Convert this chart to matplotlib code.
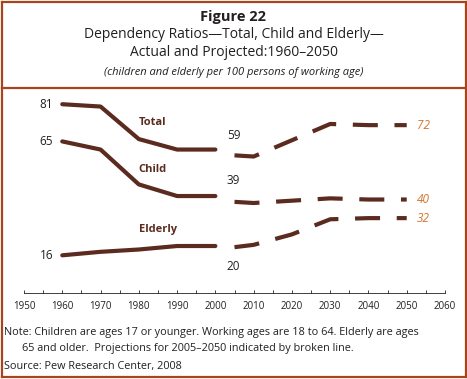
import matplotlib.pyplot as plt
from matplotlib.lines import Line2D

# データ
years_actual = [1960, 1970, 1980, 1990, 2000]
years_proj = [2005, 2010, 2020, 2030, 2040, 2050]

total_actual = [81, 80, 66, 61.5, 61.5]
child_actual = [65, 61.5, 46.5, 41.5, 41.5]
elderly_actual = [16, 17.5, 18.5, 20, 20]

total_proj = [59, 58.5, 65.5, 72.5, 72, 72]
child_proj = [39, 38.5, 39.5, 40.5, 40, 40]
elderly_proj = [19.5, 20.5, 25, 31.5, 32, 32]

tick_years = list(range(1950, 2061, 10))

LINE = "#5c2b1f"
FRAME = "#a8441c"
PROJ = "#d4742c"
TEXT = "#231f20"
FONT = ["Open Sans", "DejaVu Sans"]

plt.rcParams["font.family"] = FONT

W, H = 467, 379
fig = plt.figure(figsize=(W / 100, H / 100), dpi=100)


def fx(px):
    return px / W


def fy(py):
    return 1 - py / H


# 枠線
for seg in [
    ((1.5, 465.5), (1.5, 1.5)),
    ((1.5, 465.5), (87.5, 87.5)),
    ((1.5, 465.5), (376.5, 376.5)),
    ((1.5, 1.5), (1.5, 376.5)),
    ((465.5, 465.5), (1.5, 376.5)),
]:
    (x0, x1), (y0, y1) = seg
    fig.add_artist(Line2D([fx(x0), fx(x1)], [fy(y0), fy(y1)], color=FRAME, lw=1.6))

# タイトル
fig.text(0.5, fy(17), "Figure 22", ha="center", va="center", fontsize=10.5, fontweight="bold", color=TEXT)
fig.text(0.5, fy(35), "Dependency Ratios\u2014Total, Child and Elderly\u2014", ha="center", va="center",
         fontsize=10, color=TEXT)
fig.text(0.5, fy(53), "Actual and Projected:1960\u20132050", ha="center", va="center", fontsize=10, color=TEXT)
fig.text(0.5, fy(72), "(children and elderly per 100 persons of working age)", ha="center", va="center",
         fontsize=8, style="italic", color=TEXT)

# メイン軸
ax = fig.add_axes((fx(24), fy(292.5), fx(445) - fx(24), fy(83.3) - fy(292.5)))
ax.set_xlim(1950, 2060)
ax.set_ylim(0, 90)
for s in ["top", "right", "left"]:
    ax.spines[s].set_visible(False)
ax.spines["bottom"].set_color(TEXT)
ax.spines["bottom"].set_linewidth(0.6)
ax.set_yticks([])
ax.set_xticks(tick_years)
ax.set_xticks(range(1955, 2060, 10), minor=True)
ax.tick_params(axis="x", which="both", direction="in", length=2.5, width=0.6, color=TEXT,
               labelsize=7, labelcolor=TEXT, pad=6)

solid_kw = dict(color=LINE, lw=3, solid_capstyle="round", solid_joinstyle="round")
dash_kw = dict(color=LINE, lw=3, linestyle=(0, (6, 4)), dash_capstyle="butt")

for ya, yp in [(total_actual, total_proj), (child_actual, child_proj), (elderly_actual, elderly_proj)]:
    ax.plot(years_actual, ya, **solid_kw)
    ax.plot(years_proj, yp, **dash_kw)

# 系列ラベル
lab_kw = dict(fontsize=8, fontweight="bold", color=LINE, va="center", ha="left")
ax.text(1980, 73, "Total", **lab_kw)
ax.text(1980, 53, "Child", **lab_kw)
ax.text(1980, 27, "Elderly", **lab_kw)

# 値ラベル
val_kw = dict(fontsize=8.5, color=TEXT, va="center")
ax.text(1957.6, total_actual[0], "81", ha="right", **val_kw)
ax.text(1957.6, child_actual[0], "65", ha="right", **val_kw)
ax.text(1957.6, elderly_actual[0], "16", ha="right", **val_kw)
ax.text(2003, 67.7, f"{total_proj[0]:.0f}", ha="left", **val_kw)
ax.text(2003, 48, f"{child_proj[0]:.0f}", ha="left", **val_kw)
ax.text(2003, 11, "20", ha="left", **val_kw)

proj_kw = dict(fontsize=8.5, color=PROJ, style="italic", va="center", ha="left")
ax.text(2052.7, total_proj[-1], f"{total_proj[-1]}", **proj_kw)
ax.text(2052.7, child_proj[-1], f"{child_proj[-1]}", **proj_kw)
ax.text(2052.7, elderly_proj[-1], f"{elderly_proj[-1]}", **proj_kw)

# 注記
note_kw = dict(fontsize=7.8, color=TEXT, va="center", ha="left")
fig.text(fx(4), fy(333), "Note: Children are ages 17 or younger. Working ages are 18 to 64. Elderly are ages",
         **note_kw)
fig.text(fx(22), fy(348), "65 and older.  Projections for 2005\u20132050 indicated by broken line.", **note_kw)
fig.text(fx(4), fy(367), "Source: Pew Research Center, 2008", **note_kw)

fig.savefig("out.png", dpi=100)
